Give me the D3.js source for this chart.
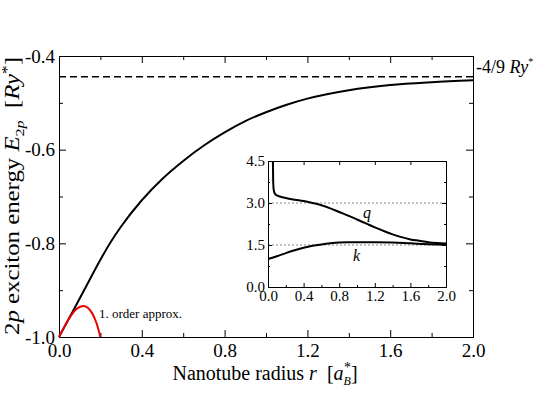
<!DOCTYPE html>
<html>
<head>
<meta charset="utf-8">
<title>2p exciton energy vs nanotube radius</title>
<script src="https://cdnjs.cloudflare.com/ajax/libs/d3/7.8.5/d3.min.js"></script>
<style>
	body { margin: 0; background: #fff; }
	svg text, .axis text {
		font-family: "Liberation Serif", "Times New Roman", Times, serif;
		fill: #000;
		white-space: pre;
	}
	.axis path, .axis line { stroke: #000; }
</style>
</head>
<body>
<script>
	// main curve: 2p exciton energy vs radius
	var radius = [0, 0.05, 0.1, 0.15, 0.2, 0.25, 0.3, 0.4, 0.5, 0.6, 0.7, 0.8, 0.9, 1.0, 1.1, 1.2, 1.4, 1.6, 1.8, 2.0];
	var energy = [-1.0, -0.959, -0.918, -0.876, -0.835, -0.797, -0.764, -0.708, -0.662, -0.624, -0.591, -0.563, -0.539, -0.520, -0.504, -0.491, -0.473, -0.462, -0.456, -0.452];

	// first order approximation (red)
	var approxRadius = [0, 0.02, 0.04, 0.06, 0.08, 0.1, 0.12, 0.14, 0.16, 0.18, 0.2];
	var approxEnergy = [-1.0, -0.983, -0.967, -0.953, -0.942, -0.936, -0.934, -0.938, -0.949, -0.969, -1.0];

	var limitEnergy = -4 / 9;

	// inset: q and k
	var qRadius = [0.055, 0.058, 0.065, 0.08, 0.1, 0.2, 0.3, 0.4, 0.5, 0.6, 0.7, 0.8, 0.9, 1.0, 1.1, 1.2, 1.3, 1.4, 1.5, 1.6, 1.7, 1.8, 1.9, 2.0];
	var qValue = [4.5, 3.8, 3.45, 3.32, 3.27, 3.18, 3.12, 3.07, 3.0, 2.92, 2.81, 2.68, 2.55, 2.41, 2.27, 2.13, 2.0, 1.88, 1.78, 1.7, 1.65, 1.6, 1.57, 1.55];
	var kRadius = [0, 0.1, 0.2, 0.3, 0.4, 0.5, 0.6, 0.7, 0.8, 0.9, 1.0, 1.2, 1.4, 1.6, 1.8, 2.0];
	var kValue = [1.0, 1.1, 1.21, 1.31, 1.4, 1.47, 1.52, 1.56, 1.59, 1.6, 1.6, 1.6, 1.59, 1.56, 1.53, 1.51];
	var insetRefLines = [3.0, 1.5];

	var xTicks = [0, 0.4, 0.8, 1.2, 1.6, 2.0];
	var xMinor = [0.2, 0.6, 1.0, 1.4, 1.8];
	var yTicks = [-1.0, -0.8, -0.6, -0.4];
	var yMinor = [-0.9, -0.7, -0.5];
	var insetYTicks = [0, 1.5, 3.0, 4.5];
	var insetYMinor = [0.75, 2.25, 3.75];

	var W = 545, H = 398;
	var fmt = function (d) { return d.toFixed(1); };

	var svg = d3.select('body').append('svg')
		.attr('width', W)
		.attr('height', H);

	// ---- main plot ----
	var x = d3.scaleLinear().domain([0, 2]).range([59, 473]);
	var y = d3.scaleLinear().domain([-1.0, -0.4]).range([337, 56]);

	function addAxis(axis, tx, ty, size, labels) {
		var g = svg.append('g')
			.attr('class', 'axis')
			.attr('transform', 'translate(' + tx + ',' + ty + ')')
			.call(axis)
			.attr('font-family', null);
		if (!labels) g.selectAll('text').remove();
		g.selectAll('text').style('font-size', size + 'px');
		return g;
	}

	addAxis(d3.axisBottom(x).tickValues(xTicks).tickSize(-7).tickPadding(7).tickFormat(fmt), 0, 337, 19, true);
	addAxis(d3.axisBottom(x).tickValues(xMinor).tickSize(-4).tickSizeOuter(0), 0, 337, 19, false);
	addAxis(d3.axisTop(x).tickValues(xTicks).tickSize(-7), 0, 56, 19, false);
	addAxis(d3.axisTop(x).tickValues(xMinor).tickSize(-4).tickSizeOuter(0), 0, 56, 19, false);
	addAxis(d3.axisLeft(y).tickValues(yTicks).tickSize(-7).tickPadding(4).tickFormat(fmt), 59, 0, 19, true);
	addAxis(d3.axisLeft(y).tickValues(yMinor).tickSize(-4).tickSizeOuter(0), 59, 0, 19, false);
	addAxis(d3.axisRight(y).tickValues(yTicks).tickSize(-7), 473, 0, 19, false);
	addAxis(d3.axisRight(y).tickValues(yMinor).tickSize(-4).tickSizeOuter(0), 473, 0, 19, false);

	// dashed limit
	svg.append('line')
		.attr('x1', x(0)).attr('x2', x(2))
		.attr('y1', y(limitEnergy)).attr('y2', y(limitEnergy))
		.attr('stroke', '#000')
		.attr('stroke-width', 1.5)
		.attr('stroke-dasharray', '7,4');

	var mainLine = d3.line()
		.x(function (d) { return x(d[0]); })
		.y(function (d) { return y(d[1]); })
		.curve(d3.curveMonotoneX);

	svg.append('path')
		.datum(d3.zip(radius, energy))
		.attr('d', mainLine)
		.attr('fill', 'none')
		.attr('stroke', '#000')
		.attr('stroke-width', 2);

	svg.append('path')
		.datum(d3.zip(approxRadius, approxEnergy))
		.attr('d', mainLine.curve(d3.curveCatmullRom))
		.attr('fill', 'none')
		.attr('stroke', '#e00')
		.attr('stroke-width', 2);

	svg.append('text')
		.attr('x', 99).attr('y', 318)
		.style('font-size', '13px')
		.text('1. order approx.');

	// right label -4/9 Ry*
	var lim = svg.append('text')
		.attr('x', 476).attr('y', 73)
		.style('font-size', '18px');
	lim.append('tspan').text('-4/9 ');
	lim.append('tspan').style('font-style', 'italic').text('Ry');
	lim.append('tspan').attr('dy', -8).style('font-size', '10px').text('*');

	// x label
	var xl = svg.append('text')
		.attr('x', 265).attr('y', 380)
		.attr('text-anchor', 'middle')
		.style('font-size', '20px');
	xl.append('tspan').text('Nanotube radius ');
	xl.append('tspan').style('font-style', 'italic').text('r');
	xl.append('tspan').text('  [');
	xl.append('tspan').style('font-style', 'italic').text('a');
	xl.append('tspan').attr('dy', 5).style('font-size', '12px').style('font-style', 'italic').text('B');
	xl.append('tspan').attr('dx', -7).attr('dy', -13).style('font-size', '14px').text('*');
	xl.append('tspan').attr('dy', 8).text(']');

	// y label
	var yl = svg.append('text')
		.attr('transform', 'translate(19,196) rotate(-90)')
		.attr('text-anchor', 'middle')
		.attr('textLength', 278)
		.attr('lengthAdjust', 'spacingAndGlyphs')
		.style('font-size', '20px');
	yl.append('tspan').text('2');
	yl.append('tspan').style('font-style', 'italic').text('p');
	yl.append('tspan').text(' exciton energy ');
	yl.append('tspan').style('font-style', 'italic').text('E');
	yl.append('tspan').attr('dy', 5).style('font-size', '13px').text('2');
	yl.append('tspan').style('font-size', '13px').style('font-style', 'italic').text('p');
	yl.append('tspan').attr('dy', -5).text('  [');
	yl.append('tspan').style('font-style', 'italic').text('Ry');
	yl.append('tspan').attr('dy', -7).style('font-size', '14px').text('*');
	yl.append('tspan').attr('dy', 7).text(']');

	// ---- inset ----
	var ix = d3.scaleLinear().domain([0, 2]).range([268, 446]);
	var iy = d3.scaleLinear().domain([0, 4.5]).range([287, 161]);

	svg.append('rect')
		.attr('x', ix(0)).attr('y', iy(4.5))
		.attr('width', ix(2) - ix(0)).attr('height', iy(0) - iy(4.5))
		.attr('fill', '#fff');

	svg.selectAll('.ref')
		.data(insetRefLines)
		.enter().append('line')
		.attr('class', 'ref')
		.attr('x1', ix(0)).attr('x2', ix(2))
		.attr('y1', function (d) { return iy(d); })
		.attr('y2', function (d) { return iy(d); })
		.attr('stroke', '#888')
		.attr('stroke-width', 1)
		.attr('stroke-dasharray', '2,2');

	addAxis(d3.axisBottom(ix).tickValues(xTicks).tickSize(-4).tickPadding(3).tickFormat(fmt), 0, 287, 15, true);
	addAxis(d3.axisBottom(ix).tickValues(xMinor).tickSize(-2).tickSizeOuter(0), 0, 287, 15, false);
	addAxis(d3.axisTop(ix).tickValues(xTicks).tickSize(-4), 0, 161, 15, false);
	addAxis(d3.axisLeft(iy).tickValues(insetYTicks).tickSize(-4).tickPadding(3).tickFormat(fmt), 268, 0, 15, true);
	addAxis(d3.axisLeft(iy).tickValues(insetYMinor).tickSize(-2).tickSizeOuter(0), 268, 0, 15, false);
	addAxis(d3.axisRight(iy).tickValues(insetYTicks).tickSize(-4), 446, 0, 15, false);
	addAxis(d3.axisRight(iy).tickValues(insetYMinor).tickSize(-2).tickSizeOuter(0), 446, 0, 15, false);

	var insetLine = d3.line()
		.x(function (d) { return ix(d[0]); })
		.y(function (d) { return iy(d[1]); })
		.curve(d3.curveMonotoneX);

	svg.append('path')
		.datum(d3.zip(qRadius, qValue))
		.attr('d', insetLine)
		.attr('fill', 'none')
		.attr('stroke', '#000')
		.attr('stroke-width', 2);

	svg.append('path')
		.datum(d3.zip(kRadius, kValue))
		.attr('d', insetLine)
		.attr('fill', 'none')
		.attr('stroke', '#000')
		.attr('stroke-width', 2);

	svg.append('text')
		.attr('x', 363).attr('y', 218)
		.style('font-size', '16px').style('font-style', 'italic')
		.text('q');
	svg.append('text')
		.attr('x', 353).attr('y', 261)
		.style('font-size', '16px').style('font-style', 'italic')
		.text('k');
</script>
</body>
</html>
